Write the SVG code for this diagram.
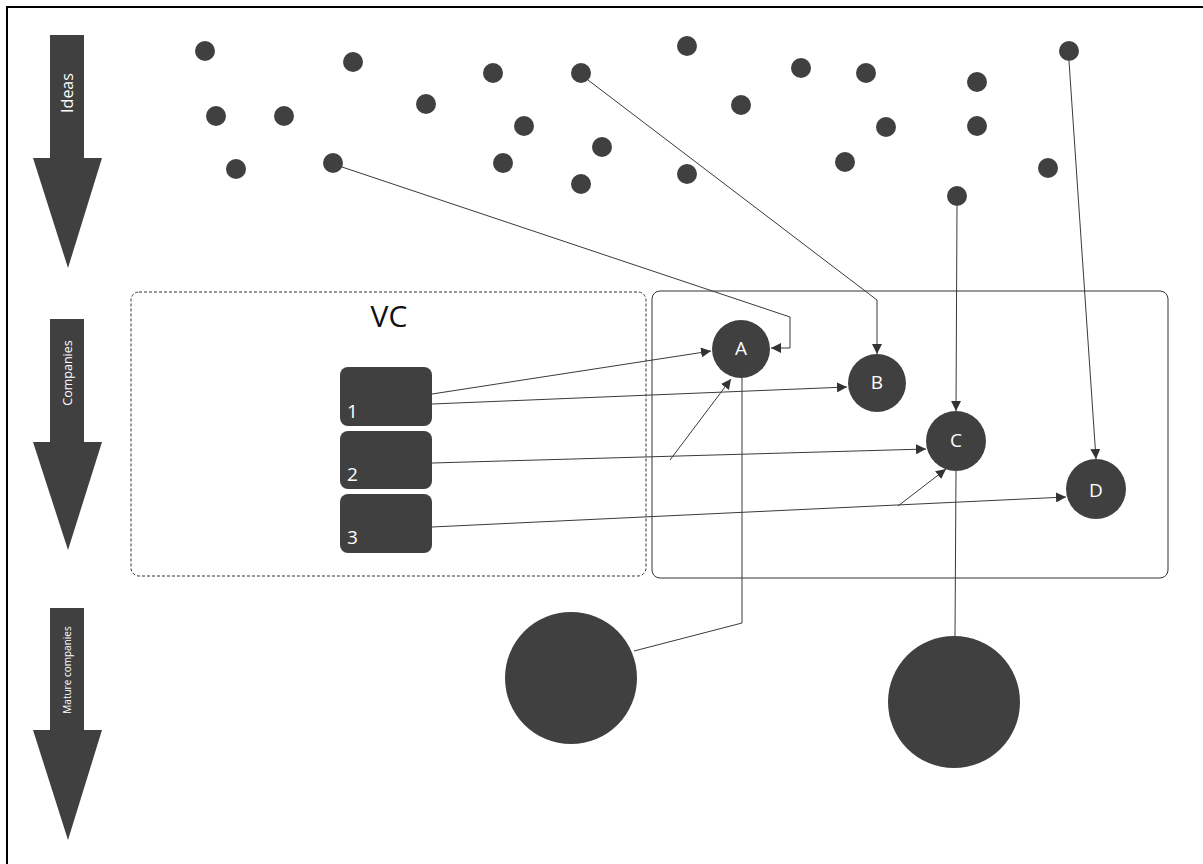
<svg xmlns="http://www.w3.org/2000/svg" width="1203" height="864" viewBox="0 0 1203 864">
<style>
.dark{fill:#404040}
.lbl{fill:#ffffff;font-family:"Open Sans","Liberation Sans",sans-serif;text-anchor:middle;dominant-baseline:central}
.num{fill:#ffffff;font-family:"Open Sans","Liberation Sans",sans-serif;font-size:19px}
.conn{fill:none;stroke:#3a3a3a;stroke-width:1}
.arr{marker-end:url(#ah)}
</style>
<defs>
<marker id="ah" viewBox="0 0 10 10" refX="10" refY="5" markerWidth="10" markerHeight="10" markerUnits="userSpaceOnUse" orient="auto">
<path d="M0,0 L10,5 L0,10 z" fill="#333333"/>
</marker>
</defs>
<rect width="1203" height="864" fill="#ffffff"/>
<rect x="7" y="7" width="1205" height="870" fill="none" stroke="#000000" stroke-width="2"/>

<g id="stage-ideas">
<polygon class="dark" points="50,35 84,35 84,158 102,158 68,268 33,158 50,158"/>
<text class="lbl" font-size="16" transform="translate(67,93) rotate(-90)">Ideas</text>
</g>
<g id="stage-companies">
<polygon class="dark" points="50,319 84,319 84,442 102,442 68,550 33,442 50,442"/>
<text class="lbl" font-size="12.5" transform="translate(67,373) rotate(-90)">Companies</text>
</g>
<g id="stage-mature">
<polygon class="dark" points="50,608 84,608 84,730 102,730 68,840 33,730 50,730"/>
<text class="lbl" font-size="10" transform="translate(67,670) rotate(-90)">Mature companies</text>
</g>

<g id="vc-box">
<rect x="131" y="292" width="515" height="284" rx="8" fill="none" stroke="#333333" stroke-width="1" stroke-dasharray="3,2"/>
<text x="389" y="327" font-family="'Open Sans','Liberation Sans',sans-serif" font-size="30" fill="#111111" text-anchor="middle">VC</text>
</g>
<g id="companies-box">
<rect x="652" y="291" width="516" height="287" rx="8" fill="none" stroke="#333333" stroke-width="1"/>
</g>

<g id="ideas">
<circle class="dark" cx="205" cy="51" r="10"/>
<circle class="dark" cx="353" cy="62" r="10"/>
<circle class="dark" cx="216" cy="116" r="10"/>
<circle class="dark" cx="284" cy="116" r="10"/>
<circle class="dark" cx="426" cy="104" r="10"/>
<circle class="dark" cx="236" cy="169" r="10"/>
<circle class="dark" cx="333" cy="163" r="10"/>
<circle class="dark" cx="493" cy="73" r="10"/>
<circle class="dark" cx="581" cy="73" r="10"/>
<circle class="dark" cx="687" cy="46" r="10"/>
<circle class="dark" cx="741" cy="105" r="10"/>
<circle class="dark" cx="524" cy="126" r="10"/>
<circle class="dark" cx="602" cy="147" r="10"/>
<circle class="dark" cx="503" cy="163" r="10"/>
<circle class="dark" cx="581" cy="184" r="10"/>
<circle class="dark" cx="687" cy="174" r="10"/>
<circle class="dark" cx="801" cy="68" r="10"/>
<circle class="dark" cx="866" cy="73" r="10"/>
<circle class="dark" cx="977" cy="82" r="10"/>
<circle class="dark" cx="1069" cy="51" r="10"/>
<circle class="dark" cx="886" cy="127" r="10"/>
<circle class="dark" cx="977" cy="126" r="10"/>
<circle class="dark" cx="845" cy="162" r="10"/>
<circle class="dark" cx="1048" cy="168" r="10"/>
<circle class="dark" cx="957" cy="196" r="10"/>
</g>

<g id="connectors">
<polyline class="conn arr" points="342,167 790,317 790,348 771,348"/>
<polyline class="conn arr" points="588,80 877,300 877,354"/>
<line class="conn arr" x1="957" y1="206" x2="956" y2="411"/>
<line class="conn arr" x1="1069" y1="61" x2="1096" y2="459"/>
<line class="conn arr" x1="432" y1="394" x2="711" y2="351"/>
<line class="conn arr" x1="432" y1="404" x2="847" y2="387"/>
<line class="conn arr" x1="432" y1="463" x2="926" y2="449"/>
<line class="conn arr" x1="670" y1="460" x2="731" y2="379"/>
<line class="conn arr" x1="432" y1="527" x2="1066" y2="497"/>
<line class="conn arr" x1="898" y1="506" x2="946" y2="469"/>
<polyline class="conn" points="742,378 742,623 634,651"/>
<line class="conn" x1="956" y1="471" x2="955" y2="637"/>
</g>

<g id="vc-1">
<rect class="dark" x="340" y="367" width="92" height="59" rx="8"/>
<text class="num" x="347" y="418">1</text>
</g>
<g id="vc-2">
<rect class="dark" x="340" y="431" width="92" height="58" rx="8"/>
<text class="num" x="347" y="481">2</text>
</g>
<g id="vc-3">
<rect class="dark" x="340" y="494" width="92" height="59" rx="8"/>
<text class="num" x="347" y="544">3</text>
</g>

<g id="company-A">
<circle class="dark" cx="741" cy="349" r="29"/>
<text class="lbl" x="741" y="348" font-size="19">A</text>
</g>
<g id="company-B">
<circle class="dark" cx="877" cy="383" r="29"/>
<text class="lbl" x="877" y="382" font-size="19">B</text>
</g>
<g id="company-C">
<circle class="dark" cx="956" cy="441" r="30"/>
<text class="lbl" x="956" y="440" font-size="19">C</text>
</g>
<g id="company-D">
<circle class="dark" cx="1096" cy="489" r="30"/>
<text class="lbl" x="1096" y="490" font-size="19">D</text>
</g>
<g id="mature-A">
<circle class="dark" cx="571" cy="678" r="66"/>
</g>
<g id="mature-C">
<circle class="dark" cx="954" cy="702" r="66"/>
</g>
</svg>
